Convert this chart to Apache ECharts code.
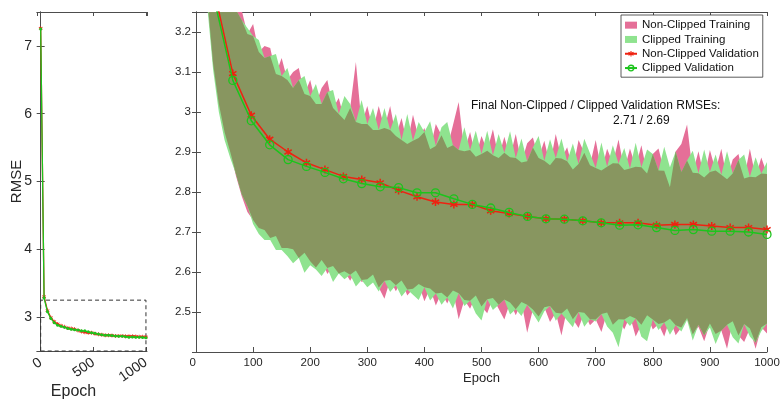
<!DOCTYPE html>
<html>
<head>
<meta charset="utf-8">
<script src="https://cdn.jsdelivr.net/npm/echarts@6/dist/echarts.min.js"></script>
<style>
  html, body { margin: 0; padding: 0; background: #fff; }
  #main { width: 780px; height: 401px; }
</style>
</head>
<body>
<div id="main"></div>
<script>
// validation points (31 per run + the epoch 0 point)
var valEpochs = [0, 32.3, 64.5, 96.8, 129, 161.3, 193.5, 225.8, 258.1, 290.3, 322.6, 354.8, 387.1, 419.4, 451.6, 483.9,
  516.1, 548.4, 580.6, 612.9, 645.2, 677.4, 709.7, 741.9, 774.2, 806.5, 838.7, 871, 903.2, 935.5, 967.7, 1000];
var valNonClipped = [7.26, 3.30, 3.096, 2.992, 2.932, 2.900, 2.873, 2.856, 2.839, 2.831, 2.823, 2.804, 2.788, 2.775, 2.769, 2.769,
  2.753, 2.746, 2.739, 2.733, 2.732, 2.728, 2.723, 2.723, 2.723, 2.717, 2.719, 2.719, 2.715, 2.711, 2.711, 2.706];
var valClipped = [7.25, 3.28, 3.079, 2.978, 2.918, 2.881, 2.864, 2.849, 2.833, 2.821, 2.813, 2.811, 2.798, 2.798, 2.783, 2.769,
  2.760, 2.749, 2.739, 2.733, 2.732, 2.728, 2.723, 2.717, 2.718, 2.711, 2.704, 2.706, 2.702, 2.702, 2.700, 2.694];

// training RMSE range (min / max over batches), every 10 epochs
var bandEpochs = [10, 20, 30, 40, 50, 60, 70, 80, 90, 100, 110, 120, 130, 140, 150, 160, 170, 180, 190, 200,
  210, 220, 230, 240, 250, 260, 270, 280, 290, 300, 310, 320, 330, 340, 350, 360, 370, 380, 390, 400,
  410, 420, 430, 440, 450, 460, 470, 480, 490, 500, 510, 520, 530, 540, 550, 560, 570, 580, 590, 600,
  610, 620, 630, 640, 650, 660, 670, 680, 690, 700, 710, 720, 730, 740, 750, 760, 770, 780, 790, 800,
  810, 820, 830, 840, 850, 860, 870, 880, 890, 900, 910, 920, 930, 940, 950, 960, 970, 980, 990, 1000];
var ncUpper = [3.80, 3.56, 3.46, 3.37, 3.35, 3.29, 3.265, 3.255, 3.195, 3.22,
  3.15, 3.165, 3.16, 3.095, 3.135, 3.08, 3.10, 3.11, 3.045, 3.08,
  3.02, 3.06, 3.08, 3.01, 3.035, 2.98, 3.01, 3.125, 2.97, 3.015,
  2.955, 3.015, 2.96, 3.015, 2.94, 2.985, 2.92, 2.993, 2.935, 2.96,
  2.907, 2.97, 2.942, 2.91, 2.967, 3.025, 2.902, 2.95, 2.888, 2.94,
  2.903, 2.957, 2.885, 2.938, 2.887, 2.945, 2.874, 2.922, 2.936, 2.885,
  2.928, 2.867, 2.945, 2.884, 2.912, 2.856, 2.93, 2.898, 2.867, 2.93,
  2.854, 2.908, 2.872, 2.931, 2.855, 2.909, 2.863, 2.917, 2.846, 2.895,
  2.909, 2.853, 2.812, 2.901, 2.92, 2.969, 2.848, 2.902, 2.836, 2.905,
  2.854, 2.908, 2.832, 2.881, 2.895, 2.834, 2.908, 2.837, 2.886, 2.845];
var ncLower = [3.58, 3.28, 3.12, 3.02, 2.95, 2.90, 2.84, 2.79, 2.75, 2.73,
  2.71, 2.705, 2.685, 2.69, 2.66, 2.66, 2.657, 2.635, 2.648, 2.627,
  2.611, 2.63, 2.595, 2.615, 2.596, 2.602, 2.578, 2.604, 2.575, 2.582,
  2.594, 2.561, 2.533, 2.58, 2.552, 2.579, 2.541, 2.558, 2.57, 2.527,
  2.559, 2.516, 2.548, 2.521, 2.554, 2.482, 2.53, 2.508, 2.541, 2.514,
  2.497, 2.535, 2.508, 2.481, 2.524, 2.492, 2.525, 2.448, 2.506, 2.489,
  2.512, 2.475, 2.498, 2.441, 2.509, 2.482, 2.46, 2.498, 2.467, 2.481,
  2.45, 2.499, 2.468, 2.482, 2.456, 2.49, 2.439, 2.468, 2.492, 2.456,
  2.47, 2.439, 2.483, 2.442, 2.461, 2.485, 2.444, 2.463, 2.427, 2.471,
  2.445, 2.454, 2.408, 2.477, 2.441, 2.425, 2.459, 2.408, 2.462, 2.446];
var cUpper = [3.78, 3.57, 3.44, 3.39, 3.33, 3.30, 3.255, 3.23, 3.21, 3.19,
  3.18, 3.135, 3.14, 3.145, 3.09, 3.11, 3.06, 3.08, 3.09, 3.04,
  3.07, 3.02, 3.05, 3.055, 2.995, 3.04, 3.02, 2.975, 3.03, 2.97,
  3.01, 2.955, 3.01, 2.955, 2.995, 2.93, 2.995, 2.928, 2.975, 2.95,
  2.977, 2.915, 2.962, 2.975, 2.917, 2.905, 2.962, 2.905, 2.953, 2.895,
  2.953, 2.892, 2.945, 2.898, 2.952, 2.885, 2.934, 2.877, 2.911, 2.94,
  2.878, 2.932, 2.885, 2.934, 2.877, 2.921, 2.87, 2.933, 2.897, 2.86,
  2.924, 2.863, 2.917, 2.871, 2.91, 2.859, 2.923, 2.862, 2.906, 2.895,
  2.854, 2.913, 2.862, 2.901, 2.85, 2.879, 2.903, 2.847, 2.906, 2.85,
  2.894, 2.843, 2.902, 2.846, 2.88, 2.894, 2.838, 2.887, 2.846, 2.875];
var cLower = [3.56, 3.26, 3.105, 3.0, 2.93, 2.885, 2.845, 2.795, 2.765, 2.72,
  2.695, 2.68, 2.68, 2.655, 2.655, 2.64, 2.622, 2.635, 2.598, 2.617,
  2.606, 2.59, 2.61, 2.575, 2.596, 2.582, 2.593, 2.564, 2.58, 2.562,
  2.574, 2.551, 2.578, 2.55, 2.567, 2.539, 2.556, 2.543, 2.53, 2.562,
  2.529, 2.546, 2.518, 2.536, 2.509, 2.547, 2.515, 2.528, 2.496, 2.479,
  2.532, 2.505, 2.518, 2.531, 2.494, 2.507, 2.49, 2.518, 2.496, 2.474,
  2.502, 2.515, 2.478, 2.496, 2.479, 2.462, 2.50, 2.463, 2.482, 2.476,
  2.495, 2.464, 2.448, 2.412, 2.481, 2.465, 2.484, 2.438, 2.427, 2.481,
  2.455, 2.474, 2.443, 2.467, 2.451, 2.48, 2.429, 2.468, 2.442, 2.461,
  2.42, 2.454, 2.468, 2.437, 2.421, 2.47, 2.439, 2.423, 2.452, 2.471];

// zoomed window shown on the right, marked with a dashed box on the left
var zoomX = [0, 1000];
var zoomY = [2.4, 3.25];

var PINK = '#e56f98', LIGHTGREEN = '#8fe38f', OLIVE = '#889660';
var RED = '#ee2211', GREEN = '#1cc41c';
var AXIS = '#4d4d4d', TXT = '#262626';
var FONT = '"Liberation Sans", Arial, Helvetica, sans-serif';
// MATLAB style asterisk marker
var STAR = 'path://M-1,-5L1,-5L1,-1.7L4.3,-3.6L5.3,-1.9L2,0L5.3,1.9L4.3,3.6L1,1.7L1,5L-1,5L-1,1.7L-4.3,3.6L-5.3,1.9L-2,0L-5.3,-1.9L-4.3,-3.6L-1,-1.7Z';

function pairs(xs, ys) {
  return xs.map(function (x, i) { return [x, ys[i]]; });
}
function plainNum(v) { return String(v); }

// both ranges overlap here -> drawn in olive
var ovLower = ncLower.map(function (v, i) { return Math.max(v, cLower[i]); });
var ovUpper = ncUpper.map(function (v, i) { return Math.min(v, cUpper[i]); });

// filled min/max band as one polygon (stacking would stack x on a value axis)
function bandSeries(name, lower, upper, color, z) {
  return {
    name: name, type: 'custom', xAxisIndex: 2, yAxisIndex: 2,
    clip: true, silent: true, z: z,
    itemStyle: { color: color },
    data: [[bandEpochs[0], lower[0]]],
    renderItem: function (params, api) {
      var pts = [];
      for (var i = 0; i < bandEpochs.length; i++) {
        pts.push(api.coord([bandEpochs[i], upper[i]]));
      }
      for (var j = bandEpochs.length - 1; j >= 0; j--) {
        pts.push(api.coord([bandEpochs[j], lower[j]]));
      }
      return { type: 'polygon', shape: { points: pts }, style: { fill: color } };
    }
  };
}

function boxAxes(gridIndex, isX) {
  // mirror axis on top / right, ticks only
  return {
    gridIndex: gridIndex, type: 'value', position: isX ? 'top' : 'right',
    axisLine: { show: true, lineStyle: { color: AXIS, width: 1 } },
    axisTick: { show: true, inside: true, length: 4, lineStyle: { color: AXIS } },
    axisLabel: { show: false }, splitLine: { show: false }
  };
}

var chart = echarts.init(document.getElementById('main'), null, { renderer: 'canvas' });

var xLeft = {
  gridIndex: 0, type: 'value', min: -35, max: 1010, splitNumber: 2,
  axisLine: { lineStyle: { color: AXIS, width: 1 } },
  axisTick: { inside: true, length: 4, lineStyle: { color: AXIS } },
  axisLabel: { rotate: 35, fontSize: 14, color: TXT, fontFamily: FONT, margin: 10,
    showMinLabel: false, showMaxLabel: false, formatter: plainNum },
  splitLine: { show: false },
  name: 'Epoch', nameLocation: 'middle', nameGap: 33, nameMoveOverlap: false,
  nameTextStyle: { fontSize: 16, color: TXT, fontFamily: FONT, padding: [0, 37, 0, 0] }
};
var xLeftTop = boxAxes(0, true);
xLeftTop.min = -35; xLeftTop.max = 1010; xLeftTop.splitNumber = 2;

var xRight = {
  gridIndex: 1, type: 'value', min: zoomX[0], max: zoomX[1], interval: 100,
  axisLine: { lineStyle: { color: AXIS, width: 1 } },
  axisTick: { inside: true, length: 5, lineStyle: { color: AXIS } },
  axisLabel: { fontSize: 11.5, color: TXT, fontFamily: FONT, margin: 5, alignMinLabel: 'right', formatter: plainNum },
  splitLine: { show: false },
  name: 'Epoch', nameLocation: 'middle', nameGap: 20, nameMoveOverlap: false,
  nameTextStyle: { fontSize: 13, color: TXT, fontFamily: FONT }
};
var xRightTop = boxAxes(1, true);
xRightTop.min = zoomX[0]; xRightTop.max = zoomX[1]; xRightTop.interval = 100;

var yLeft = {
  gridIndex: 0, type: 'value', min: 2.5, max: 7.5, splitNumber: 5,
  axisLine: { show: true, lineStyle: { color: AXIS, width: 1 } },
  axisTick: { show: true, inside: true, length: 4, lineStyle: { color: AXIS } },
  axisLabel: { fontSize: 14, color: TXT, fontFamily: FONT, margin: 5, showMinLabel: false, showMaxLabel: false },
  splitLine: { show: false },
  name: 'RMSE', nameLocation: 'middle', nameGap: 13, nameMoveOverlap: false,
  nameTextStyle: { fontSize: 15, color: TXT, fontFamily: FONT }
};
var yLeftRight = boxAxes(0, false);
yLeftRight.min = 2.5; yLeftRight.max = 7.5; yLeftRight.splitNumber = 5;

var yRight = {
  gridIndex: 1, type: 'value', min: zoomY[0], max: zoomY[1], interval: 0.1,
  axisLine: { show: true, lineStyle: { color: AXIS, width: 1 } },
  axisTick: { show: true, inside: true, length: 5, lineStyle: { color: AXIS } },
  axisLabel: { fontSize: 11.5, color: TXT, fontFamily: FONT, margin: 5, showMinLabel: false, showMaxLabel: false },
  splitLine: { show: false }
};
var yRightRight = boxAxes(1, false);
yRightRight.min = zoomY[0]; yRightRight.max = zoomY[1]; yRightRight.interval = 0.1;

var series = [
  bandSeries('Non-Clipped Training', ncLower, ncUpper, PINK, 1),
  bandSeries('Clipped Training', cLower, cUpper, LIGHTGREEN, 2),
  bandSeries('overlap', ovLower, ovUpper, OLIVE, 3)
];

series.push({
  name: 'Non-Clipped Validation', type: 'line', xAxisIndex: 2, yAxisIndex: 2, z: 5,
  data: pairs(valEpochs, valNonClipped),
  lineStyle: { color: RED, width: 1.5 }, itemStyle: { color: RED },
  symbol: STAR, symbolSize: 8, showAllSymbol: true
});
series.push({
  name: 'Clipped Validation', type: 'line', xAxisIndex: 2, yAxisIndex: 2, z: 6,
  data: pairs(valEpochs, valClipped),
  lineStyle: { color: GREEN, width: 1.5 },
  itemStyle: { color: 'rgba(0,0,0,0)', borderColor: GREEN, borderWidth: 1.3 },
  symbol: 'circle', symbolSize: 8, showAllSymbol: true
});

// small overview panel
series.push({
  name: 'nc-overview', type: 'line', xAxisIndex: 0, yAxisIndex: 0, z: 5,
  data: pairs(valEpochs, valNonClipped),
  lineStyle: { color: RED, width: 1.3 }, itemStyle: { color: RED },
  symbol: STAR, symbolSize: 4
});
series.push({
  name: 'c-overview', type: 'line', xAxisIndex: 0, yAxisIndex: 0, z: 6,
  data: pairs(valEpochs, valClipped),
  lineStyle: { color: GREEN, width: 1.3 }, itemStyle: { color: GREEN },
  symbol: 'circle', symbolSize: 3,
  markArea: {
    silent: true,
    itemStyle: { color: 'rgba(0,0,0,0)', borderColor: '#333', borderWidth: 1, borderType: [4, 3] },
    data: [[{ coord: [zoomX[0], 2.5] }, { coord: [zoomX[1], zoomY[1]] }]]
  }
});

var option = {
  backgroundColor: '#ffffff',
  animation: false,
  grid: [
    { left: 37, top: 12, width: 110, height: 339, outerBoundsMode: 'none', containLabel: false },
    { left: 196, top: 12, width: 571, height: 340, outerBoundsMode: 'none', containLabel: false }
  ],
  xAxis: [xLeft, xLeftTop, xRight, xRightTop],
  yAxis: [yLeft, yLeftRight, yRight, yRightRight],
  legend: {
    orient: 'vertical', left: 621, top: 15,
    itemWidth: 12, itemHeight: 7, itemGap: 2,
    padding: [4, 4, 3, 3],
    borderColor: '#333', borderWidth: 0.8, backgroundColor: '#fff',
    selectedMode: false,
    textStyle: { fontSize: 11.5, color: '#111', fontFamily: FONT, lineHeight: 12.3 },
    data: [
      { name: 'Non-Clipped Training', icon: 'rect', itemStyle: { color: PINK } },
      { name: 'Clipped Training', icon: 'rect', itemStyle: { color: LIGHTGREEN } },
      { name: 'Non-Clipped Validation' },
      { name: 'Clipped Validation', itemStyle: { color: 'rgba(0,0,0,0)', borderColor: GREEN, borderWidth: 1.3 } }
    ]
  },
  graphic: [
    {
      type: 'text', left: 471, top: 100, z: 10,
      style: { text: 'Final Non-Clipped / Clipped Validation RMSEs:', fontSize: 12, fontFamily: FONT, fill: '#111' }
    },
    {
      type: 'text', left: 613, top: 115, z: 10,
      style: {
        text: valNonClipped[valNonClipped.length - 1].toFixed(2) + ' / ' + valClipped[valClipped.length - 1].toFixed(2),
        fontSize: 12, fontFamily: FONT, fill: '#111'
      }
    }
  ],
  series: series
};

chart.setOption(option);
</script>
</body>
</html>
